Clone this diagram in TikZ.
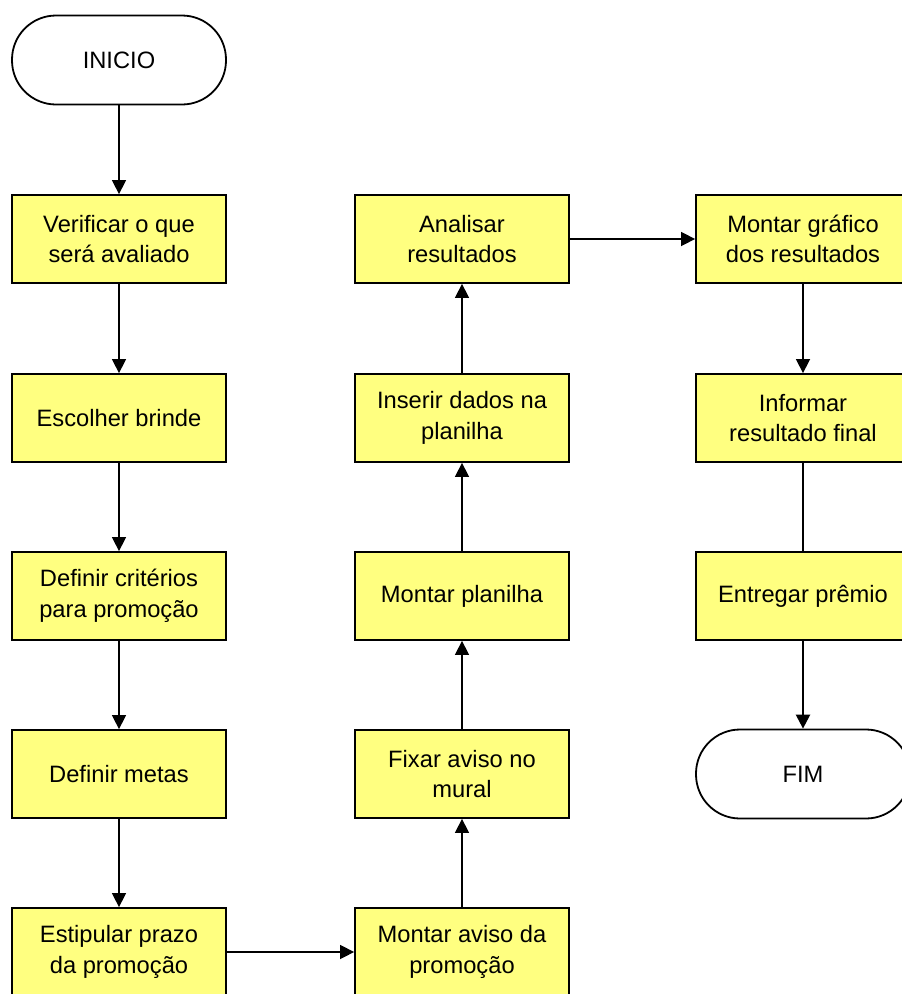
\documentclass[tikz,border=0pt]{standalone}
\usepackage{fontspec}
\setmainfont{Liberation Sans}
\usetikzlibrary{arrows.meta}
\definecolor{boxfill}{RGB}{255,255,128}
\begin{document}
\begin{tikzpicture}[x=1pt,y=-1pt,
  txt/.style={align=center,inner sep=0pt,font=\fontsize{23.7}{30.5}\selectfont},
  proc/.style={txt,draw=black,line width=1.8pt,fill=boxfill,
    minimum width=214pt,minimum height=88pt},
  term/.style={txt,draw=black,line width=1.8pt,fill=white,rounded corners=44pt,
    minimum width=214pt,minimum height=89pt},
  flow/.style={line width=1.5pt,-{Triangle[length=14pt,width=14pt]}},
  link/.style={line width=1.5pt}]
\useasboundingbox (0,0) rectangle (902,994);
\clip (0,0) rectangle (902,994);

% first column
\node[term] (inicio) at (119,60) {INICIO};
\node[proc] (verif) at (119,239) {Verificar o que\\será avaliado};
\node[proc] (brinde) at (119,418) {Escolher brinde};
\node[proc] (crit) at (119,596) {Definir critérios\\para promoção};
\node[proc] (metas) at (119,774) {Definir metas};
\node[proc] (prazo) at (119,952) {Estipular prazo\\da promoção};

% second column
\node[proc] (aviso) at (462,952) {Montar aviso da\\promoção};
\node[proc] (mural) at (462,774) {Fixar aviso no\\mural};
\node[proc] (planilha) at (462,596) {Montar planilha};
\node[proc] (dados) at (462,418) {Inserir dados na\\planilha};
\node[proc] (analisar) at (462,239) {Analisar\\resultados};

% third column
\node[proc] (grafico) at (803,239) {Montar gráfico\\dos resultados};
\node[proc] (informar) at (803,418) {Informar\\resultado final};
\node[proc] (premio) at (803,596) {Entregar prêmio};
\node[term] (fim) at (803,774) {FIM};

% connectors
\draw[flow] (inicio) -- (verif);
\draw[flow] (verif) -- (brinde);
\draw[flow] (brinde) -- (crit);
\draw[flow] (crit) -- (metas);
\draw[flow] (metas) -- (prazo);
\draw[flow] (prazo) -- (aviso);
\draw[flow] (aviso) -- (mural);
\draw[flow] (mural) -- (planilha);
\draw[flow] (planilha) -- (dados);
\draw[flow] (dados) -- (analisar);
\draw[flow] (analisar) -- (grafico);
\draw[flow] (grafico) -- (informar);
\draw[link] (informar) -- (premio);
\draw[flow,line width=2.4pt] (premio) -- (fim);
\end{tikzpicture}
\end{document}
